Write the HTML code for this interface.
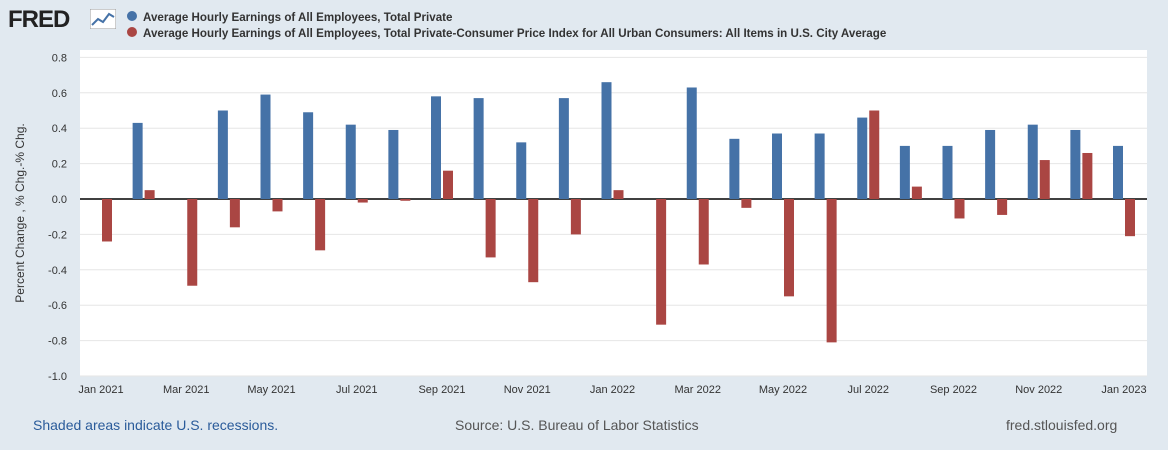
<!DOCTYPE html>
<html><head><meta charset="utf-8"><style>
body{margin:0;background:#e1e9f0;font-family:"Liberation Sans",sans-serif;}
#wrap{position:relative;width:1168px;height:450px;overflow:hidden;}
.t{position:absolute;white-space:nowrap;}
</style></head><body>
<div id="wrap">
<div class="t" style="left:8px;top:6px;font-size:24px;font-weight:bold;color:#222;letter-spacing:-1px">FRED</div>
<svg style="position:absolute;left:90px;top:9px" width="26" height="20"><rect width="26" height="20" fill="#fff" stroke="#999"/><polyline points="2,16 8,10 13,13 19,5 24,8" fill="none" stroke="#4572a7" stroke-width="2"/></svg>
<div class="t" style="left:127px;top:11px;font-size:11.6px;font-weight:bold;color:#333"><span style="display:inline-block;width:10px;height:10px;border-radius:5px;background:#4572a7;margin-right:6px"></span>Average Hourly Earnings of All Employees, Total Private</div>
<div class="t" style="left:127px;top:27px;font-size:11.6px;font-weight:bold;color:#333"><span style="display:inline-block;width:10px;height:10px;border-radius:5px;background:#aa4643;margin-right:6px"></span>Average Hourly Earnings of All Employees, Total Private-Consumer Price Index for All Urban Consumers: All Items in U.S. City Average</div>
<svg id="chart" style="position:absolute;left:0;top:0" width="1168" height="450"></svg>
<div class="t" style="left:33px;top:417px;font-size:14px;color:#2a5b9a">Shaded areas indicate U.S. recessions.</div>
<div class="t" style="left:455px;top:417px;font-size:14px;color:#555">Source: U.S. Bureau of Labor Statistics</div>
<div class="t" style="left:1006px;top:417px;font-size:14px;color:#555">fred.stlouisfed.org</div>
</div>
<script>
const months=["Jan 2021","Feb 2021","Mar 2021","Apr 2021","May 2021","Jun 2021","Jul 2021","Aug 2021","Sep 2021","Oct 2021","Nov 2021","Dec 2021","Jan 2022","Feb 2022","Mar 2022","Apr 2022","May 2022","Jun 2022","Jul 2022","Aug 2022","Sep 2022","Oct 2022","Nov 2022","Dec 2022","Jan 2023"];
const earnings=[0,0.43,0,0.50,0.59,0.49,0.42,0.39,0.58,0.57,0.32,0.57,0.66,0,0.63,0.34,0.37,0.37,0.46,0.30,0.30,0.39,0.42,0.39,0.30];
const realEarnings=[-0.24,0.05,-0.49,-0.16,-0.07,-0.29,-0.02,-0.01,0.16,-0.33,-0.47,-0.20,0.05,-0.71,-0.37,-0.05,-0.55,-0.81,0.50,0.07,-0.11,-0.09,0.22,0.26,-0.21];
const yTicks=[0.8,0.6,0.4,0.2,0,-0.2,-0.4,-0.6,-0.8,-1.0];
const xLabelIdx=[0,2,4,6,8,10,12,14,16,18,20,22,24];
const svg=document.getElementById('chart');const NS='http://www.w3.org/2000/svg';
const L=80,R=1147,T=50,B=376;
const y=v=>199-v*(376-199)/1.0;
const x=i=>101+i*(1124-101)/24;
function mk(tag,a,p){const e=document.createElementNS(NS,tag);for(const k in a)e.setAttribute(k,a[k]);(p||svg).appendChild(e);return e;}
const bg=mk('rect',{x:L,y:T,width:R-L,height:B-T,fill:'#fff'});


yTicks.forEach(v=>{
 const g=mk('line',{x1:L,x2:R,y1:y(v),y2:y(v),stroke:v===0?'#000':'#e6e6e6','stroke-width':v===0?1.5:1});
 
 
 const t=mk('text',{x:L-13,y:y(v)+4,'text-anchor':'end','font-size':11,fill:'#333'});t.textContent=v.toFixed(1);
 
 
});
xLabelIdx.forEach(i=>{
 const t=mk('text',{x:x(i),y:B+17,'text-anchor':'middle','font-size':11,fill:'#333'});t.textContent=months[i];
 
 
});
const yt=mk('text',{x:0,y:0,transform:'translate(24,213) rotate(-90)','text-anchor':'middle','font-size':12,fill:'#333'});yt.textContent='Percent Change , % Chg.-% Chg.';


const bw=10;
months.forEach((m,i)=>{
 [[earnings[i],-11,'#4572a7','bar-earnings'],[realEarnings[i],1,'#aa4643','bar-real-earnings']].forEach(([v,off,c,n])=>{
  if(v===0)return;
  const r=mk('rect',{x:x(i)+off,y:Math.min(y(v),y(0)),width:bw,height:Math.abs(y(v)-y(0)),fill:c});
  
  
 });
});
</script>
</body></html>
